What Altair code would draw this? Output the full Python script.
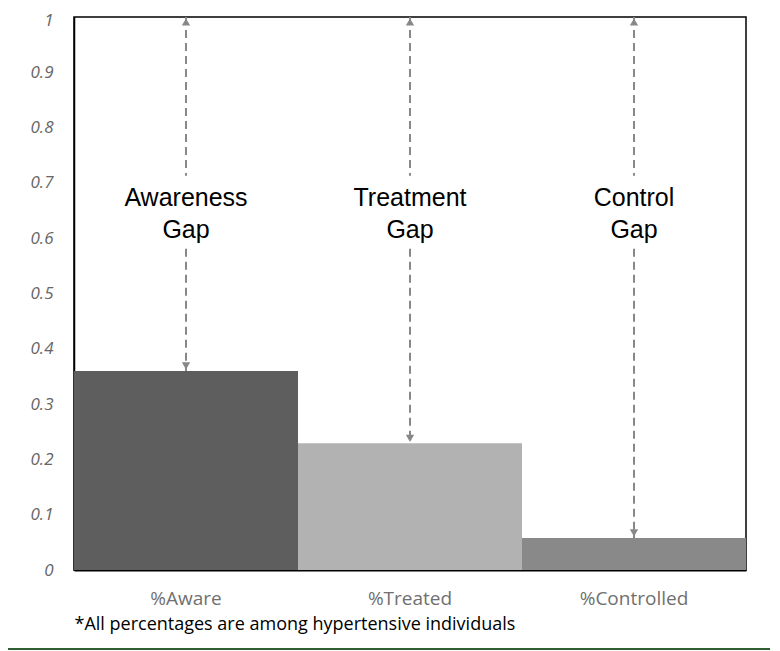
import altair as alt
import pandas as pd

categories = ["%Aware", "%Treated", "%Controlled"]
values = [0.36, 0.229, 0.058]
gap_labels = [["Awareness", "Gap"], ["Treatment", "Gap"], ["Control", "Gap"]]
bar_colors = ["#5e5e5e", "#b2b2b2", "#898989"]
y_ticks = [0, 0.1, 0.2, 0.3, 0.4, 0.5, 0.6, 0.7, 0.8, 0.9, 1]
footnote = "*All percentages are among hypertensive individuals"

TOP = 1.0
TEXT_TOP = 0.713
TEXT_BOTTOM = 0.581
TEXT_MID = 0.673

df = pd.DataFrame({"cat": categories, "val": values, "color": bar_colors})
df["top"] = TOP
df["text_top"] = TEXT_TOP
df["text_bottom"] = TEXT_BOTTOM
df["text_mid"] = TEXT_MID
df["label"] = gap_labels

x = alt.X("cat:N", sort=categories, scale=alt.Scale(paddingInner=0, paddingOuter=0),
          axis=alt.Axis(title=footnote, titleAnchor="start", titleAlign="left",
                        titleFont="Open Sans", titleFontSize=18, titleFontWeight="normal",
                        titleColor="#000000", titlePadding=7,
                        labelAngle=0, ticks=False, labelPadding=19,
                        labelFont="Open Sans", labelFontSize=19, labelColor="#707070",
                        domainColor="#000000", domainWidth=2))
yscale = alt.Scale(domain=[0, 1], nice=False)

base = alt.Chart(df)

bars = base.mark_bar(strokeWidth=0).encode(
    x=x,
    y=alt.Y("val:Q", scale=yscale,
            axis=alt.Axis(title=None, values=y_ticks, format=".1~f", grid=False, ticks=False,
                          labelPadding=21, labelFont="Open Sans", labelFontStyle="italic",
                          labelFontSize=17, labelColor="#666666",
                          labelOffset={"condition": {"test": "datum.value == 1", "value": 3}, "value": 0},
                          domainColor="#000000", domainWidth=1.5)),
    color=alt.Color("color:N", scale=None),
)

dash = dict(color="#888888", strokeWidth=2, strokeDash=[8, 5])
upper = base.mark_rule(**dash).encode(x=x, y=alt.Y("top:Q", scale=yscale), y2="text_top:Q")
lower = base.mark_rule(**dash).encode(x=x, y=alt.Y("text_bottom:Q", scale=yscale), y2="val:Q")

up_arrow = base.mark_point(shape="triangle-up", filled=True, color="#888888", size=70,
                           opacity=1, yOffset=5).encode(x=x, y=alt.Y("top:Q", scale=yscale))
down_arrow = base.mark_point(shape="triangle-down", filled=True, color="#888888", size=70,
                             opacity=1, yOffset=-5).encode(x=x, y=alt.Y("val:Q", scale=yscale))

labels = base.mark_text(font="Liberation Sans", fontSize=25, color="#000000",
                        lineHeight=32, baseline="middle", align="center").encode(
    x=x, y=alt.Y("text_mid:Q", scale=yscale), text="label"
)

green = alt.Chart(pd.DataFrame({"a": [0]})).mark_rule(color="#2f5e33", strokeWidth=2).encode(
    x=alt.value(-67), x2=alt.value(696), y=alt.value(632)
)

chart = alt.layer(bars, upper, lower, up_arrow, down_arrow, labels, green).properties(
    width=672, height=553,
    background="white",
    autosize=alt.AutoSizeParams(type="none"),
    padding={"left": 66, "top": 9, "right": 24, "bottom": 81},
).configure_view(stroke="#000000", strokeWidth=1.5)

chart.save("out.html", embed_options={"renderer": "svg", "actions": False})
